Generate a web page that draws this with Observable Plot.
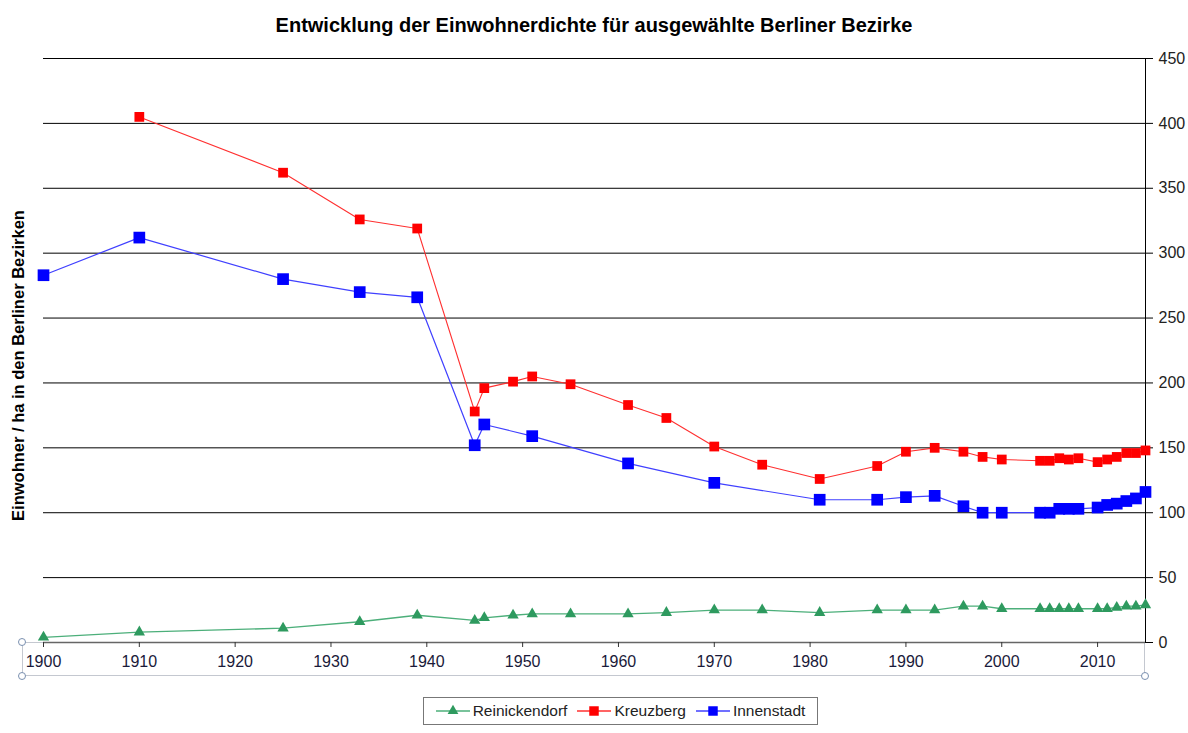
<!DOCTYPE html>
<html>
<head>
<meta charset="utf-8">
<script src="https://cdn.jsdelivr.net/npm/d3@7"></script>
<script src="https://cdn.jsdelivr.net/npm/@observablehq/plot@0.6"></script>
<style>
  html, body { margin: 0; padding: 0; background: #fff; font-family: "Liberation Sans", Arial, sans-serif; }
  #wrap { position: relative; width: 1188px; height: 733px; }
  #title { position: absolute; left: 0; top: 14px; width: 1188px; text-align: center; font-weight: bold; font-size: 20px; color: #000; }
  #chart { position: absolute; left: 0; top: 45px; }
  #axisbox { position: absolute; left: 22px; top: 642px; width: 1123px; height: 34px; border: 1px solid #c4c8d0; box-sizing: border-box; }
  .handle { position: absolute; width: 6px; height: 6px; border: 1px solid #7a90b0; border-radius: 50%; background: #fff; }
  #legend { position: absolute; left: 423px; top: 697px; width: 395px; height: 28px; border: 1px solid #777; box-sizing: border-box; display: flex; align-items: center; justify-content: center; gap: 10px; font-size: 15.5px; color: #222; }
  .item { display: flex; align-items: center; gap: 3px; }
</style>
</head>
<body>
<div id="wrap">
  <div id="title">Entwicklung der Einwohnerdichte für ausgewählte Berliner Bezirke</div>
  <div id="axisbox"></div>
  <div id="chart"></div>
  <div class="handle" style="left:18px;top:638px"></div>
  <div class="handle" style="left:18px;top:672px"></div>
  <div class="handle" style="left:1141px;top:672px"></div>
  <div id="legend"></div>
</div>
<script>
const seriesNames = ["Reinickendorf", "Kreuzberg", "Innenstadt"];
const seriesColors = ["#2e9a5f", "#ff0000", "#0000ff"];
const lineColors = ["#4caf7a", "#ff3030", "#4040ff"];

const yearsInnenstadt = [1900, 1910, 1925, 1933, 1939, 1945, 1946, 1951, 1961, 1970, 1981, 1987, 1990, 1993, 1996, 1998, 2000, 2004, 2005, 2006, 2007, 2008, 2010, 2011, 2012, 2013, 2014, 2015];
const valuesInnenstadt = [283, 312, 280, 270, 266, 152, 168, 159, 138, 123, 110, 110, 112, 113, 105, 100, 100, 100, 100, 103, 103, 103, 104, 106, 107, 109, 111, 116];

const yearsKreuzberg = [1910, 1925, 1933, 1939, 1945, 1946, 1949, 1951, 1955, 1961, 1965, 1970, 1975, 1981, 1987, 1990, 1993, 1996, 1998, 2000, 2004, 2005, 2006, 2007, 2008, 2010, 2011, 2012, 2013, 2014, 2015];
const valuesKreuzberg = [405, 362, 326, 319, 178, 196, 201, 205, 199, 183, 173, 151, 137, 126, 136, 147, 150, 147, 143, 141, 140, 140, 142, 141, 142, 139, 141, 143, 146, 146, 148];

const yearsReinickendorf = [1900, 1910, 1925, 1933, 1939, 1945, 1946, 1949, 1951, 1955, 1961, 1965, 1970, 1975, 1981, 1987, 1990, 1993, 1996, 1998, 2000, 2004, 2005, 2006, 2007, 2008, 2010, 2011, 2012, 2013, 2014, 2015];
const valuesReinickendorf = [4, 8, 11, 16, 21, 17, 19, 21, 22, 22, 22, 23, 25, 25, 23, 25, 25, 25, 28, 28, 26, 26, 26, 26, 26, 26, 26, 26, 27, 28, 28, 29];

const xTicks = [1900, 1910, 1920, 1930, 1940, 1950, 1960, 1970, 1980, 1990, 2000, 2010];
const yTicks = [0, 50, 100, 150, 200, 250, 300, 350, 400, 450];
const yLabel = "Einwohner / ha in den Berliner Bezirken";

const mk = (years, values, name) => years.map((y, i) => ({year: y, value: values[i], name}));
const rein = mk(yearsReinickendorf, valuesReinickendorf, seriesNames[0]);
const kreuz = mk(yearsKreuzberg, valuesKreuzberg, seriesNames[1]);
const inn = mk(yearsInnenstadt, valuesInnenstadt, seriesNames[2]);

const chart = Plot.plot({
  width: 1188,
  height: 637,
  marginLeft: 43,
  marginRight: 43,
  marginTop: 13,
  marginBottom: 40,
  style: {fontFamily: "'Liberation Sans', Arial, sans-serif", fontSize: "16px", color: "#222", background: "transparent"},
  x: {domain: [1900, 2015]},
  y: {domain: [0, 450]},
  marks: [
    Plot.gridY(yTicks.filter(d => d > 0), {stroke: "#000", strokeOpacity: 1, strokeWidth: 1}),
    Plot.ruleY([0], {stroke: "#666", strokeWidth: 1.5}),
    Plot.frame({anchor: "right", stroke: "#000"}),
    Plot.axisY({anchor: "right", ticks: yTicks, tickSize: 7, tickPadding: 6, label: null, stroke: "#000", fill: "#222"}),
    Plot.axisX({ticks: xTicks, tickFormat: d => String(d), tickSize: 5, tickPadding: 8, label: null, stroke: "#333", fill: "#1a1a3a"}),
    Plot.text([yLabel], {frameAnchor: "left", textAnchor: "middle", dx: -25, dy: 15, rotate: -90, fontWeight: "bold", fontSize: 16.5, fill: "#000"}),
    Plot.line(rein, {x: "year", y: "value", stroke: lineColors[0], strokeWidth: 1.3}),
    Plot.line(kreuz, {x: "year", y: "value", stroke: lineColors[1], strokeWidth: 1.1}),
    Plot.line(inn, {x: "year", y: "value", stroke: lineColors[2], strokeWidth: 1.2}),
    Plot.dot(rein, {x: "year", y: "value", symbol: "triangle", r: 4.2, fill: seriesColors[0], stroke: "none"}),
    Plot.dot(kreuz, {x: "year", y: "value", symbol: "square", r: 5.5, fill: seriesColors[1], stroke: "none"}),
    Plot.dot(inn, {x: "year", y: "value", symbol: "square", r: 6.6, fill: seriesColors[2], stroke: "none"})
  ]
});
document.getElementById("chart").appendChild(chart);

// legend
const legend = document.getElementById("legend");
const syms = ["triangle", "square", "square"];
seriesNames.forEach((n, i) => {
  const item = document.createElement("div");
  item.className = "item";
  const sw = d3.create("svg").attr("width", 34).attr("height", 14);
  sw.append("line").attr("x1", 0).attr("x2", 34).attr("y1", 7).attr("y2", 7).attr("stroke", lineColors[i]).attr("stroke-width", 1.3);
  const sym = syms[i] === "triangle" ? d3.symbolTriangle : d3.symbolSquare;
  sw.append("path").attr("d", d3.symbol(sym, syms[i] === "triangle" ? 50 : 90)()).attr("transform", "translate(17,7)").attr("fill", seriesColors[i]);
  item.appendChild(sw.node());
  const t = document.createElement("span");
  t.textContent = n;
  item.appendChild(t);
  legend.appendChild(item);
});
</script>
</body>
</html>
